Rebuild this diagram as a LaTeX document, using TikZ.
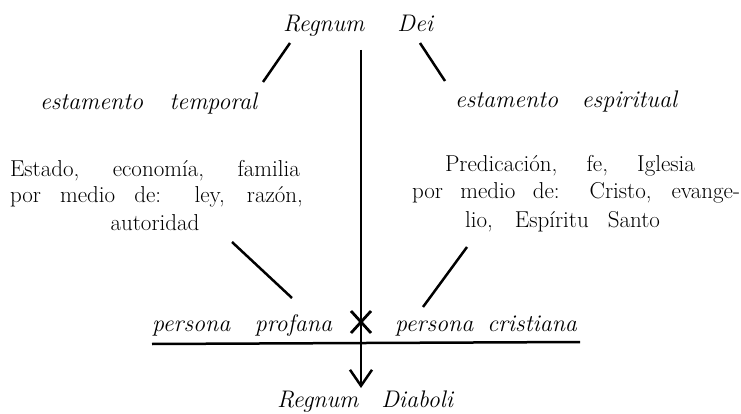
\documentclass[tikz,border=0pt]{standalone}
\usepackage{fontspec}
\usetikzlibrary{arrows.meta}
\newcommand{\jl}[2]{\makebox[#1][s]{#2}}
\begin{document}
\begin{tikzpicture}[x=1pt,y=-1pt,
  rom/.style={font=\fontsize{23}{28}\selectfont\addfontfeatures{LetterSpace=8,FakeBold=0.6}, inner sep=0pt, anchor=base},
  ita/.style={font=\fontsize{24}{28}\selectfont\itshape\addfontfeatures{LetterSpace=5,FakeBold=0.8}, inner sep=0pt, anchor=base},
  bar/.style={line width=2.5pt}]
\useasboundingbox (0,0) rectangle (741,414);
% texts
\node[ita] (dei)  at (358,32)    {\jl{150pt}{Regnum Dei}};
\node[ita] (temp) at (148.5,110) {\jl{217pt}{estamento temporal}};
\node[ita] (espi) at (566,108)   {\jl{222pt}{estamento espiritual}};
\node[rom] (l1)   at (155,177)   {\jl{290pt}{Estado, economía, familia}};
\node[rom] (l2)   at (156.5,203) {\jl{293pt}{por medio de: ley, razón,}};
\node[rom] (l3)   at (155,230)   {autoridad};
\node[rom] (r1)   at (570,172)   {\jl{250pt}{Predicación, fe, Iglesia}};
\node[rom] (r2)   at (576,199)   {\jl{328pt}{por medio de: Cristo, evange-}};
\node[rom] (r3)   at (562.5,227) {\jl{195pt}{lio, Espíritu Santo}};
\node[ita] (prof) at (242,331)   {\jl{180pt}{persona profana}};
\node[ita] (cris) at (486,331)   {\jl{182pt}{persona cristiana}};
\node[ita] (diab) at (365,407)   {\jl{176pt}{Regnum Diaboli}};
% connector end points
\coordinate (tl0) at (290,43);  \coordinate (tl1) at (263,82);
\coordinate (tr0) at (420,43);  \coordinate (tr1) at (445,81);
\coordinate (bl0) at (232,242); \coordinate (bl1) at (292,298);
\coordinate (br0) at (467,247); \coordinate (br1) at (423,307);
\coordinate (v0) at (361,50);   \coordinate (v1) at (361,388);
\coordinate (h0) at (152,344);  \coordinate (h1) at (580,342);
\coordinate (xa) at (351,311);  \coordinate (xb) at (371,333);
\coordinate (xc) at (371,311);  \coordinate (xd) at (351,333);
% lines
\draw[bar] (tl0) -- (tl1);
\draw[bar] (tr0) -- (tr1);
\draw[bar] (bl0) -- (bl1);
\draw[bar] (br0) -- (br1);
\draw[bar,-{Straight Barb[length=16pt,width=22pt]}] (v0) -- (v1);
\draw[bar] (h0) -- (h1);
\draw[bar,line width=2.8pt] (xa) -- (xb);
\draw[bar,line width=2.8pt] (xc) -- (xd);
\end{tikzpicture}
\end{document}
